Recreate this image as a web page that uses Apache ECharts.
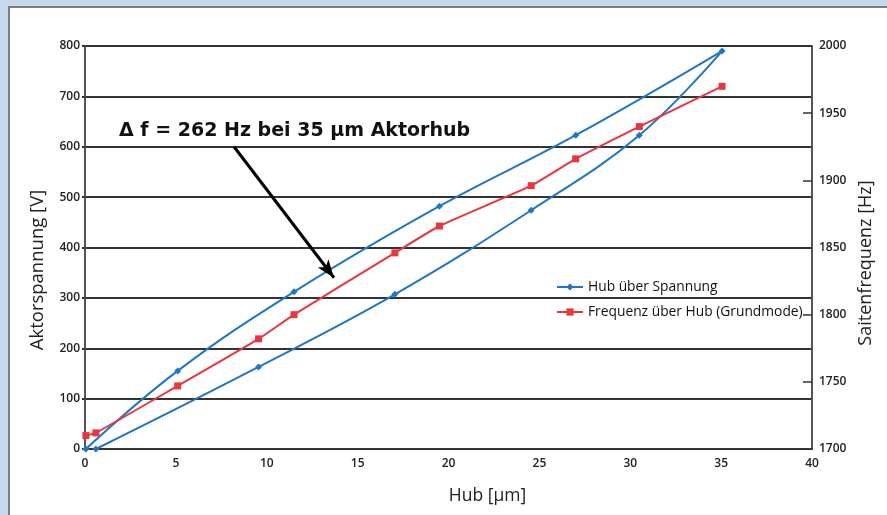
<!DOCTYPE html>
<html>
<head>
<meta charset="utf-8">
<script src="https://cdn.jsdelivr.net/npm/echarts@6/dist/echarts.min.js"></script>
<style>
  html, body { margin: 0; padding: 0; }
  body { width: 887px; height: 515px; background: #c5d9ee; position: relative; overflow: hidden; }
  #panel { position: absolute; left: 8px; top: 6px; right: -4px; bottom: -4px; background: #fff; border: 2px solid #7d7d7d; }
  #chart { position: absolute; left: 0; top: 0; width: 887px; height: 515px; }
</style>
</head>
<body>
<div id="panel"></div>
<div id="chart"></div>
<script>
// Hub ueber Spannung: rising branch, then falling branch (hysteresis loop)
const hubRise = [0.05, 5.1, 11.5, 19.5, 27.0, 35.05];
const voltRise = [0, 155, 312, 482, 623, 790];
const hubFall = [30.5, 24.55, 17.05, 9.55, 0.6];
const voltFall = [623, 474, 307, 163, 0];

// Frequenz ueber Hub (Grundmode)
const hubFreq = [0.05, 0.6, 5.1, 9.55, 11.5, 17.05, 19.5, 24.55, 27.0, 30.5, 35.05];
const freq = [1710, 1712, 1747, 1782, 1800, 1846, 1866, 1896, 1916, 1940, 1970];

const xTicks = [0, 40, 5];
const voltTicks = [0, 800, 100];
const freqTicks = [1700, 2000, 50];

const loopData = hubRise.map((h, i) => [h, voltRise[i]])
    .concat(hubFall.map((h, i) => [h, voltFall[i]]));
const freqData = hubFreq.map((h, i) => [h, freq[i]]);

const myChart = echarts.init(document.getElementById('chart'));
const labelFont = { fontFamily: 'Open Sans', fontSize: 12, fontWeight: 600, color: '#222', formatter: v => String(v) };

myChart.setOption({
    animation: false,
    title: {
        text: 'Δ f = 262 Hz bei 35 µm Aktorhub',
        left: 114,
        top: 117,
        textStyle: { fontFamily: 'DejaVu Sans', fontSize: 19, fontWeight: 'bold', color: '#111' }
    },
    legend: {
        orient: 'vertical',
        left: 551,
        top: 275,
        itemWidth: 26,
        itemHeight: 9,
        itemGap: 11,
        textStyle: { fontFamily: 'Open Sans', fontSize: 13.8, fontWeight: 500, color: '#111' },
        data: ['Hub über Spannung', 'Frequenz über Hub (Grundmode)']
    },
    grid: { left: 85, right: 75, top: 46, bottom: 66 },
    xAxis: {
        type: 'value',
        min: xTicks[0],
        max: xTicks[1],
        interval: xTicks[2],
        name: 'Hub [µm]',
        nameLocation: 'middle',
        nameGap: 38,
        nameTextStyle: { fontFamily: 'Open Sans', fontSize: 17.5, color: '#222', padding: [0, 0, 0, 78] },
        axisLine: { show: true, lineStyle: { color: '#333', width: 2 } },
        axisTick: { show: false },
        axisLabel: Object.assign({ margin: 9 }, labelFont),
        splitLine: { show: false }
    },
    yAxis: [
        {
            type: 'value',
            min: voltTicks[0],
            max: voltTicks[1],
            interval: voltTicks[2],
            name: 'Aktorspannung [V]',
            nameLocation: 'middle',
            nameGap: 38,
            nameTextStyle: { fontFamily: 'Open Sans', fontSize: 18.5, color: '#222', padding: [0, 45, 0, 0] },
            axisLine: { show: true, lineStyle: { color: '#555', width: 2 } },
            axisTick: { show: true, length: 3, lineStyle: { color: '#333', width: 2 } },
            axisLabel: Object.assign({ margin: 5 }, labelFont),
            splitLine: { show: true, lineStyle: { color: '#333', width: 2 } }
        },
        {
            type: 'value',
            position: 'right',
            min: freqTicks[0],
            max: freqTicks[1],
            interval: freqTicks[2],
            name: 'Saitenfrequenz [Hz]',
            nameLocation: 'middle',
            nameGap: 40,
            nameTextStyle: { fontFamily: 'Open Sans', fontSize: 18, color: '#222', padding: [0, 31, 0, 0] },
            axisLine: { show: true, lineStyle: { color: '#555', width: 2 } },
            axisTick: { show: true, inside: true, length: 9, lineStyle: { color: '#333', width: 1.5 } },
            axisLabel: Object.assign({ margin: 7 }, labelFont),
            splitLine: { show: false }
        }
    ],
    series: [
        {
            name: 'Hub über Spannung',
            type: 'line',
            yAxisIndex: 0,
            smooth: 0.4,
            data: loopData,
            symbol: 'diamond',
            symbolSize: 7,
            itemStyle: { color: '#1f76c6' },
            lineStyle: { color: '#1f76c6', width: 2 },
            markLine: {
                silent: true,
                symbol: ['none', 'arrow'],
                symbolSize: [10, 18],
                label: { show: false },
                lineStyle: { color: '#000', width: 3, type: 'solid' },
                data: [[{ coord: [8.2, 600] }, { coord: [13.7, 340] }]]
            }
        },
        {
            name: 'Frequenz über Hub (Grundmode)',
            type: 'line',
            yAxisIndex: 1,
            smooth: 0.15,
            data: freqData,
            symbol: 'rect',
            symbolSize: 7,
            itemStyle: { color: '#e8363c' },
            lineStyle: { color: '#e8363c', width: 2 }
        }
    ]
});
</script>
</body>
</html>
